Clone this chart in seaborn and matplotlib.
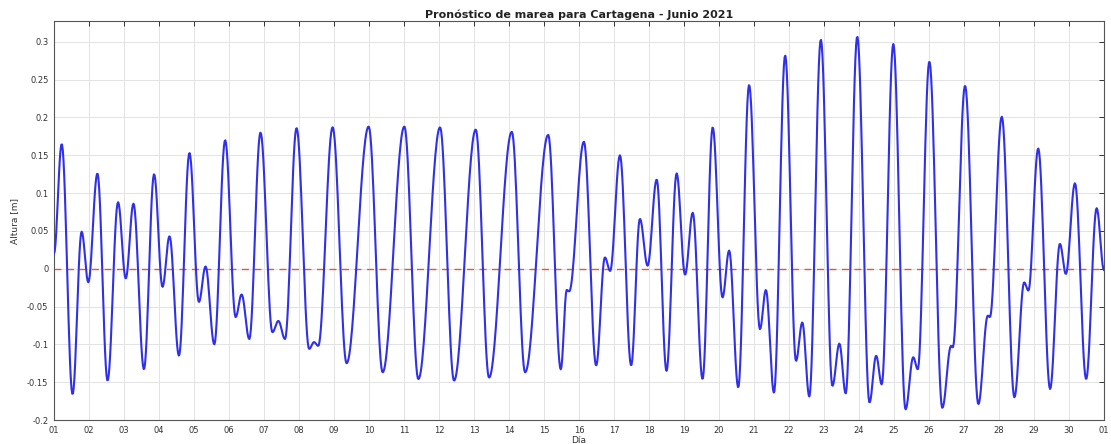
import numpy as np
import pandas as pd
import matplotlib
matplotlib.use("Agg")
import matplotlib.pyplot as plt
import seaborn as sns

# Tide turning points (days since 1 June 00:00) and heights [m]
ext_days = [0.00, 0.22, 0.53, 0.79, 0.98, 1.24, 1.53, 1.83, 2.05, 2.27, 2.57, 2.86, 3.10, 3.30,
            3.57, 3.87, 4.14, 4.33, 4.58, 4.89, 5.19, 5.36, 5.58, 5.90, 6.24, 6.41, 6.60, 6.93,
            7.29, 7.43, 7.55, 7.96, 8.36, 8.99, 9.39, 10.01, 10.41, 11.03, 11.43, 12.05, 12.43,
            13.08, 13.46, 14.12, 14.48, 14.65, 14.72, 15.14, 15.49, 15.74, 15.89, 16.17, 16.49,
            16.74, 16.96, 17.22, 17.50, 17.79, 18.03, 18.25, 18.53, 18.82, 19.10, 19.29, 19.55,
            19.86, 20.17, 20.34, 20.57, 20.89, 21.20, 21.38, 21.58, 21.91, 22.24, 22.44, 22.62,
            22.95, 23.30, 23.49, 23.65, 23.98, 24.33, 24.55, 24.68, 25.01, 25.38, 25.63, 25.68,
            26.03, 26.41, 26.68, 26.74, 27.08, 27.44, 27.72, 27.84, 28.12, 28.46, 28.74, 28.91,
            29.17, 29.49, 29.79, 30.00]
ext_heights = [0.020, 0.165, -0.166, 0.049, -0.018, 0.126, -0.148, 0.088, -0.013, 0.086, -0.133,
               0.125, -0.024, 0.043, -0.115, 0.153, -0.044, 0.003, -0.100, 0.170, -0.064, -0.034,
               -0.093, 0.180, -0.084, -0.069, -0.093, 0.186, -0.106, -0.097, -0.102, 0.187, -0.125,
               0.188, -0.137, 0.188, -0.146, 0.187, -0.148, 0.184, -0.144, 0.181, -0.137, 0.177,
               -0.133, -0.028, -0.030, 0.168, -0.128, 0.015, -0.003, 0.150, -0.128, 0.066, 0.004,
               0.118, -0.135, 0.126, -0.008, 0.074, -0.146, 0.187, -0.038, 0.024, -0.157, 0.243,
               -0.080, -0.028, -0.164, 0.282, -0.122, -0.071, -0.169, 0.303, -0.155, -0.099, -0.165,
               0.307, -0.177, -0.115, -0.153, 0.297, -0.186, -0.117, -0.133, 0.274, -0.184, -0.102,
               -0.104, 0.242, -0.179, -0.062, -0.064, 0.201, -0.170, -0.018, -0.029, 0.159, -0.159,
               0.033, -0.007, 0.113, -0.146, 0.080, -0.002]

x_tick_labels = ["01", "02", "03", "04", "05", "06", "07", "08", "09", "10", "11", "12", "13",
                 "14", "15", "16", "17", "18", "19", "20", "21", "22", "23", "24", "25", "26",
                 "27", "28", "29", "30", "01"]
y_ticks = [-0.2, -0.15, -0.1, -0.05, 0, 0.05, 0.1, 0.15, 0.2, 0.25, 0.3]
y_tick_labels = ["-0.2", "-0.15", "-0.1", "-0.05", "0", "0.05", "0.1", "0.15", "0.2", "0.25", "0.3"]

title = "Pronóstico de marea para Cartagena - Junio 2021"

# Tidal curve drawn between turning points with the usual cosine shape
ed = np.array(ext_days)
eh = np.array(ext_heights)
t = np.linspace(ed[0], ed[-1], 30 * 48 + 1)
idx = np.clip(np.searchsorted(ed, t, side="right") - 1, 0, len(ed) - 2)
s = (t - ed[idx]) / (ed[idx + 1] - ed[idx])
h = eh[idx] + (eh[idx + 1] - eh[idx]) * (1 - np.cos(np.pi * s)) / 2
df = pd.DataFrame({"dia": t, "altura": h})

sns.set_style("white")
plt.rcParams["font.family"] = ["DejaVu Sans"]

fig = plt.figure(figsize=(11.11, 4.44), dpi=100)
ax = fig.add_axes([54 / 1111, 1 - 420 / 444, 1050 / 1111, 399 / 444])

ax.axhline(0, color="#e05a3a", linestyle=(0, (5, 4)), linewidth=1.0, zorder=2)
sns.lineplot(data=df, x="dia", y="altura", ax=ax, color="#3030e8", linewidth=1.5, zorder=3)

ax.set_xlim(0, 30)
ax.set_ylim(-0.2, 0.3275)
ax.set_xticks(range(31))
ax.set_xticklabels(x_tick_labels)
ax.set_yticks(y_ticks)
ax.set_yticklabels(y_tick_labels)
ax.grid(True, color="#e3e3e3", linewidth=0.7)
ax.set_axisbelow(True)
ax.tick_params(direction="in", length=3.5, width=0.7, labelsize=6, colors="#333333",
               top=True, right=True, pad=4)
for sp in ax.spines.values():
    sp.set_color("#555555")
    sp.set_linewidth(0.8)

ax.set_xlabel("Día", fontsize=6.5, color="#333333", labelpad=1)
ax.set_ylabel("Altura [m]", fontsize=6.5, color="#333333", labelpad=6)
ax.set_title(title, fontsize=8, fontweight="bold", color="#222222", pad=2)

fig.savefig("out.png", dpi=100)
